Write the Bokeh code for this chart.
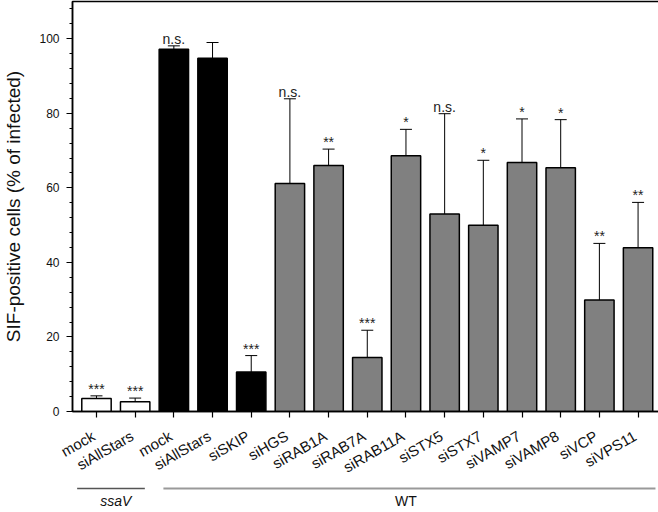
import math
from bokeh.plotting import figure
from bokeh.models import (ColumnDataSource, Range1d, FixedTicker, LinearAxis,
                          SingleIntervalTicker, Whisker, TeeHead)
from bokeh.layouts import column
from bokeh.embed import file_html
from bokeh.resources import INLINE
from bokeh.core.properties import value

# ---------------- data ----------------
categories = ["mock", "siAllStars", "mock", "siAllStars", "siSKIP", "siHGS",
              "siRAB1A", "siRAB7A", "siRAB11A", "siSTX5", "siSTX7",
              "siVAMP7", "siVAMP8", "siVCP", "siVPS11"]
means = [3.5, 2.6, 97.2, 94.8, 10.6, 61.2, 66.0, 14.5, 68.6, 53.0, 50.0,
         66.8, 65.4, 29.9, 43.9]
errors = [0.7, 1.0, 0.9, 4.2, 4.4, 22.7, 4.4, 7.3, 7.1, 26.9, 17.4,
          11.7, 12.9, 15.2, 12.2]
significance = ["***", "***", "n.s.", "", "***", "n.s.", "**", "***", "*",
                "n.s.", "*", "*", "*", "**", "**"]
kinds = ["mutant", "mutant", "control", "control", "control", "screen",
         "screen", "screen", "screen", "screen", "screen", "screen",
         "screen", "screen", "screen"]
strains = ["ssaV", "ssaV"] + ["WT"] * 13
strain_names = ["ssaV", "WT"]
y_ticks_interval = 20

# ---------------- styles / layout ----------------
FONT = "Liberation Sans"
kind_colors = {"mutant": "white", "control": "black", "screen": "#808080"}
strain_style = {"ssaV": ("italic", "#555555", 1.5),
                "WT": ("normal", "#999999", 2.0)}

FRAME_W = 588
FRAME_H = 410
LEFT = 68
LABEL_SHIFT = 0.08     # rotated labels sit slightly left of their tick
BOTTOM_H = 26

xs = list(range(len(categories)))
src = ColumnDataSource(dict(
    x=xs, top=means,
    upper=[m + e for m, e in zip(means, errors)],
    sig=significance,
    color=[kind_colors[k] for k in kinds],
))

p = figure(frame_width=FRAME_W, frame_height=FRAME_H, min_border_left=LEFT,
           min_border_right=1, min_border_top=1, min_border_bottom=0,
           x_range=Range1d(-0.62, 14.58), y_range=Range1d(0, 110),
           output_backend="svg", toolbar_location=None)

p.vbar(x="x", top="top", width=0.76, source=src, fill_color="color",
       line_color="black", line_width=1.5)

wh = Whisker(base="x", lower="top", upper="upper", source=src,
             dimension="height", line_color="black", line_width=1,
             upper_head=TeeHead(size=12, line_color="black", line_width=1),
             lower_head=None)
p.add_layout(wh)

p.text(x="x", y="upper", text="sig", source=src, text_align="center",
       text_baseline="alphabetic", y_offset=-7,
       text_font=value(FONT), text_font_size="14px", text_color="#222222")

p.xgrid.visible = False
p.ygrid.visible = False
p.outline_line_color = "black"
p.outline_line_width = 1.5

# x axis: tick marks only
xa = p.xaxis[0]
xa.ticker = FixedTicker(ticks=xs)
xa.major_label_overrides = {i: "" for i in xs}
xa.major_label_text_font_size = "1px"
xa.major_label_standoff = 0
xa.major_tick_out = 6
xa.major_tick_in = 0
xa.major_tick_line_color = "black"
xa.major_tick_line_width = 1.2
xa.minor_tick_line_color = None
xa.axis_line_width = 1.5
xa.axis_line_color = "black"

# second below axis: rotated category labels only
label_ticks = [i - LABEL_SHIFT for i in xs]
xl = LinearAxis(ticker=FixedTicker(ticks=label_ticks))
xl.major_label_overrides = {t: c for t, c in zip(label_ticks, categories)}
xl.major_label_orientation = math.pi / 6
xl.major_label_text_font = FONT
xl.major_label_text_font_size = "15px"
xl.major_label_text_color = "#111111"
xl.major_label_standoff = 11
xl.major_tick_line_color = None
xl.minor_tick_line_color = None
xl.axis_line_color = None
p.add_layout(xl, "below")

# y axis
ya = p.yaxis[0]
ya.ticker = SingleIntervalTicker(interval=y_ticks_interval, num_minor_ticks=5)
ya.major_label_text_font = FONT
ya.major_label_text_font_size = "12px"
ya.major_label_text_color = "#111111"
ya.major_label_standoff = 7
ya.major_tick_out = 6
ya.major_tick_in = 0
ya.minor_tick_out = 3
ya.minor_tick_in = 0
ya.axis_line_width = 1.5
ya.axis_line_color = "black"
ya.axis_label = "SIF-positive cells (% of infected)"
ya.axis_label_text_font = FONT
ya.axis_label_text_font_size = "19px"
ya.axis_label_text_font_style = "normal"
ya.axis_label_text_color = "#111111"
ya.axis_label_standoff = 12

# ---------------- group labels (below) ----------------
g_start, g_end, g_center, g_style, g_color, g_width = [], [], [], [], [], []
for gi, name in enumerate(strain_names):
    idx = [i for i, s in enumerate(strains) if s == name]
    first, last = min(idx), max(idx)
    s = first - (0.5 if gi == 0 else 0.27)
    e = last + (0.25 if gi == 0 else 0.45)
    g_start.append(s)
    g_end.append(e)
    g_center.append((first + last) / 2)
    st, col, lw = strain_style[name]
    g_style.append(st)
    g_color.append(col)
    g_width.append(lw)

gsrc = ColumnDataSource(dict(x0=g_start, x1=g_end, xc=g_center,
                             name=strain_names, style=g_style,
                             color=g_color, lw=g_width))

# lower panel: y range in pixels below its top edge
p2 = figure(frame_width=FRAME_W, frame_height=BOTTOM_H, min_border_left=LEFT,
            min_border_right=1, min_border_top=0, min_border_bottom=0,
            x_range=p.x_range, y_range=Range1d(-BOTTOM_H, 0),
            x_axis_type=None, y_axis_type=None,
            output_backend="svg", toolbar_location=None)
p2.outline_line_color = None
p2.xgrid.visible = False
p2.ygrid.visible = False
p2.segment(x0="x0", x1="x1", y0=-3, y1=-3, source=gsrc,
           line_color="color", line_width="lw")
p2.text(x="xc", y=-7, text="name", source=gsrc, text_align="center",
        text_baseline="top", text_font=value(FONT), text_font_size="14px",
        text_font_style="style", text_color="#111111")

layout = column(p, p2, spacing=0)

open("out.html", "w").write(file_html(layout, INLINE))
